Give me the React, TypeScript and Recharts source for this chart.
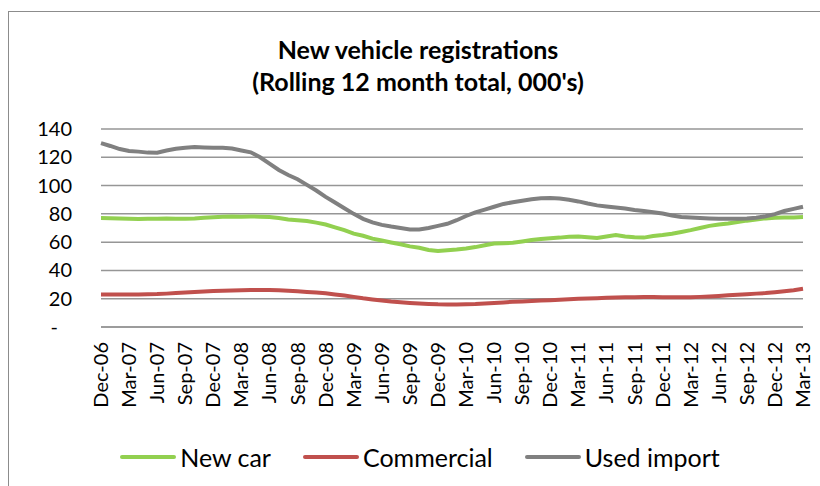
import React from 'react';
import { LineChart, Line, XAxis, YAxis, CartesianGrid } from 'recharts';

// month labels (tick every 3rd one)
const months = [
  'Dec-06',
  'Jan-07', 'Feb-07', 'Mar-07', 'Apr-07', 'May-07', 'Jun-07', 'Jul-07', 'Aug-07', 'Sep-07', 'Oct-07', 'Nov-07', 'Dec-07',
  'Jan-08', 'Feb-08', 'Mar-08', 'Apr-08', 'May-08', 'Jun-08', 'Jul-08', 'Aug-08', 'Sep-08', 'Oct-08', 'Nov-08', 'Dec-08',
  'Jan-09', 'Feb-09', 'Mar-09', 'Apr-09', 'May-09', 'Jun-09', 'Jul-09', 'Aug-09', 'Sep-09', 'Oct-09', 'Nov-09', 'Dec-09',
  'Jan-10', 'Feb-10', 'Mar-10', 'Apr-10', 'May-10', 'Jun-10', 'Jul-10', 'Aug-10', 'Sep-10', 'Oct-10', 'Nov-10', 'Dec-10',
  'Jan-11', 'Feb-11', 'Mar-11', 'Apr-11', 'May-11', 'Jun-11', 'Jul-11', 'Aug-11', 'Sep-11', 'Oct-11', 'Nov-11', 'Dec-11',
  'Jan-12', 'Feb-12', 'Mar-12', 'Apr-12', 'May-12', 'Jun-12', 'Jul-12', 'Aug-12', 'Sep-12', 'Oct-12', 'Nov-12', 'Dec-12',
  'Jan-13', 'Feb-13', 'Mar-13',
];

const newCar = [
  77.0,
  76.9, 76.7, 76.5, 76.4, 76.5, 76.6, 76.7, 76.6, 76.6, 76.8, 77.2, 77.6,
  78.0, 78.2, 78.0, 78.2, 78.0, 77.8, 77.0, 76.0, 75.5, 75.0, 73.8, 72.5,
  70.5, 68.5, 66.0, 64.5, 62.5, 61.2, 59.8, 58.5, 57.0, 56.0, 54.5, 53.8,
  54.3, 54.8, 55.5, 56.5, 57.8, 59.0, 59.3, 59.5, 60.5, 61.5, 62.2, 62.8,
  63.2, 63.8, 64.0, 63.5, 63.0, 64.0, 65.0, 64.0, 63.5, 63.2, 64.3, 65.0,
  66.0, 67.2, 68.5, 70.0, 71.5, 72.5, 73.2, 74.2, 75.2, 76.0, 76.8, 77.2,
  77.4, 77.5, 77.7,
];

const commercial = [
  23.0,
  23.0, 23.0, 23.0, 23.0, 23.2, 23.3, 23.6, 24.0, 24.4, 24.8, 25.1, 25.4,
  25.6, 25.8, 26.0, 26.1, 26.2, 26.2, 26.0, 25.6, 25.2, 24.8, 24.4, 23.8,
  23.0, 22.2, 21.3, 20.3, 19.5, 18.7, 18.0, 17.5, 17.0, 16.6, 16.3, 16.0,
  15.9, 15.9, 16.0, 16.2, 16.6, 17.0, 17.4, 17.8, 18.1, 18.4, 18.7, 19.0,
  19.3, 19.6, 19.9, 20.2, 20.4, 20.6, 20.8, 21.0, 21.1, 21.2, 21.2, 21.1,
  21.0, 21.0, 21.0, 21.3, 21.6, 22.0, 22.4, 22.8, 23.2, 23.6, 24.0, 24.6,
  25.3, 26.0, 27.0,
];

const usedImport = [
  130.0,
  128.0, 125.8, 124.5, 124.0, 123.3, 123.2, 124.8, 126.0, 126.8, 127.2, 127.0, 126.8,
  126.8, 126.2, 124.8, 123.5, 120.0, 115.5, 111.0, 107.5, 104.5, 100.5, 96.5, 92.0,
  88.0, 84.0, 80.0, 76.5, 74.0, 72.2, 71.0, 70.0, 69.0, 69.0, 70.0, 71.5,
  73.0, 75.5, 78.5, 81.0, 83.0, 85.0, 87.0, 88.2, 89.3, 90.3, 91.0, 91.2,
  90.8, 90.0, 88.8, 87.3, 86.0, 85.2, 84.5, 83.8, 82.8, 82.0, 81.2, 80.2,
  78.8, 77.8, 77.4, 77.0, 76.7, 76.5, 76.5, 76.6, 76.8, 77.2, 78.3, 79.8,
  82.0, 83.5, 85.0,
];

const yTicks = [0, 20, 40, 60, 80, 100, 120, 140];

const data = months.map((m, i) => ({
  month: m,
  newCar: newCar[i],
  commercial: commercial[i],
  usedImport: usedImport[i],
}));

const FONT = 'Lato, "Noto Sans", sans-serif';

const YTick = (props: any) => {
  const { x, y, payload } = props;
  const isZero = payload.value === 0;
  return (
    <text
      x={isZero ? x - 14 : x}
      y={y}
      dy="0.35em"
      textAnchor="end"
      fill="#000"
      fontSize={20}
      fontFamily={FONT}
    >
      {isZero ? '-' : payload.value}
    </text>
  );
};

const XTick = (props: any) => {
  const { x, y, payload } = props;
  return (
    <g transform={`translate(${x},${y})`}>
      <text
        x={0}
        y={0}
        dy="0.35em"
        textAnchor="end"
        transform="rotate(-90)"
        fill="#000"
        fontSize={20}
        fontFamily={FONT}
      >
        {payload.value}
      </text>
    </g>
  );
};

const legendItems = [
  { name: 'New car', color: '#92D050' },
  { name: 'Commercial', color: '#C0504D' },
  { name: 'Used import', color: '#808080' },
];

export default function App() {
  return (
    <div style={{ position: 'absolute', left: 0, top: 0, width: 820, height: 486, background: '#fff', overflow: 'hidden' }}>
      <div
        style={{
          position: 'absolute',
          left: 8,
          top: 11,
          width: 840,
          height: 500,
          border: '1px solid #8c8c8c',
        }}
      />
      <div
        style={{
          position: 'absolute',
          left: 0,
          top: 33,
          width: 836,
          textAlign: 'center',
          fontFamily: FONT,
          fontWeight: 'bold',
          fontSize: 25,
          lineHeight: '32px',
          color: '#000',
        }}
      >
        New vehicle registrations
        <br />
        (Rolling 12 month total, 000's)
      </div>
      <div style={{ position: 'absolute', left: 0, top: 0 }}>
        <LineChart width={820} height={486} data={data} margin={{ top: 129, right: 17, bottom: 69, left: 41 }}>
          <CartesianGrid vertical={false} stroke="#969696" strokeWidth={1.5} />
          <XAxis
            dataKey="month"
            interval={2}
            tickLine={false}
            axisLine={{ stroke: '#969696', strokeWidth: 1.5 }}
            tick={<XTick />}
            tickSize={0}
            tickMargin={15}
            height={90}
          />
          <YAxis
            width={60}
            domain={[0, 140]}
            ticks={yTicks}
            interval={0}
            tickLine={false}
            axisLine={false}
            tick={<YTick />}
            tickSize={0}
            tickMargin={29}
          />
          <Line type="linear" dataKey="newCar" stroke="#92D050" strokeWidth={4} dot={false} isAnimationActive={false} />
          <Line type="linear" dataKey="commercial" stroke="#C0504D" strokeWidth={4} dot={false} isAnimationActive={false} />
          <Line type="linear" dataKey="usedImport" stroke="#808080" strokeWidth={4} dot={false} isAnimationActive={false} />
        </LineChart>
      </div>
      <div
        style={{
          position: 'absolute',
          left: 0,
          top: 440,
          width: 820,
          display: 'flex',
          justifyContent: 'center',
          paddingLeft: 20,
          boxSizing: 'border-box',
          fontFamily: FONT,
          fontSize: 25,
          lineHeight: '34px',
        }}
      >
        {legendItems.map((it) => (
          <div key={it.name} style={{ display: 'flex', alignItems: 'center', margin: '0 16px' }}>
            <div style={{ width: 56, height: 4, borderRadius: 2, background: it.color, marginRight: 4 }} />
            <span style={{ color: '#000' }}>{it.name}</span>
          </div>
        ))}
      </div>
    </div>
  );
}
